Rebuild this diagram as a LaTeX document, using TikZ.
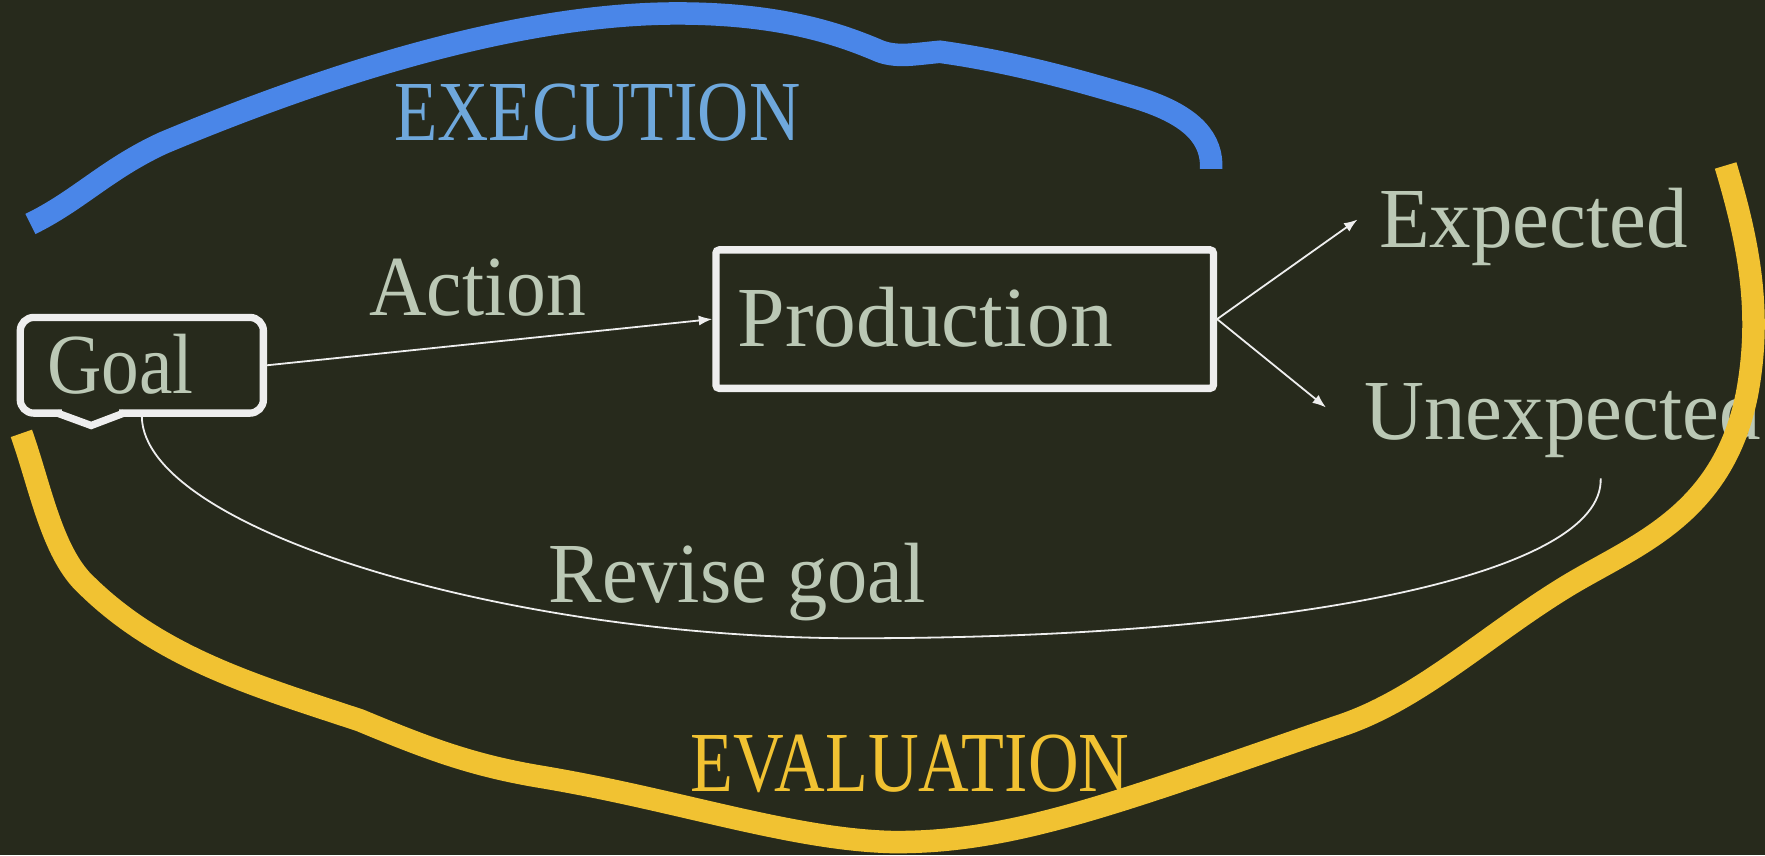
\documentclass[tikz,border=0pt]{standalone}
\usepackage{fontspec}
\usepackage{graphicx}
\setmainfont{Liberation Serif}
\usetikzlibrary{arrows.meta}
\definecolor{bg}{HTML}{272A1C}
\definecolor{sage}{HTML}{BBC8B5}
\definecolor{bluel}{HTML}{4A86E8}
\definecolor{bluet}{HTML}{6FA8DC}
\definecolor{yel}{HTML}{F1C232}
\definecolor{wl}{HTML}{EEEEEE}
\newcommand{\sx}[2]{\scalebox{#1}[1]{#2}}
\begin{document}
\begin{tikzpicture}[x=1pt,y=-1pt,
  txt/.style={anchor=base west, inner sep=0pt, text=sage, font=\fontsize{76}{90}\selectfont},
  boxline/.style={draw=wl, line width=6.5pt},
  thinarrow/.style={draw=wl, line width=1.6pt, -{Latex[length=12pt,width=9pt]}},
  thinline/.style={draw=wl, line width=1.6pt},
  bigstroke/.style={line width=20pt}]
\fill[bg] (0,0) rectangle (1568,760);
\useasboundingbox (0,0) rectangle (1568,760);

% blue execution stroke
\draw[bigstroke, bluel] (27,199) .. controls (70,178) and (95,150) .. (145,127)
  .. controls (300,62) and (470,10) .. (610,12)
  .. controls (690,13) and (740,28) .. (778,44)
  .. controls (795,52) and (812,48) .. (835,46)
  .. controls (900,55) and (960,72) .. (1010,87)
  .. controls (1062,103) and (1077,125) .. (1076,150);

% nodes
\node[boxline, rounded corners=12pt, minimum width=216pt, minimum height=85pt, inner sep=0pt] (goal) at (126,324.5) {};
\fill[bg] (55,363) rectangle (106,371);
\draw[boxline, line join=miter] (51,367) -- (81,378) -- (110,367);
\node[boxline, rounded corners=3pt, minimum width=442pt, minimum height=123pt, inner sep=0pt] (prod) at (857,283.5) {};

\node[txt] (goaltxt) at (42,350) {\sx{0.88}{Goal}};
\node[txt] (prodtxt) at (655,308) {Production};
\node[txt] (action) at (328,280) {\sx{0.93}{Action}};
\node[txt] (exp) at (1225,220) {\sx{0.97}{Expected}};
\node[txt] (unexp) at (1212,390) {\sx{0.97}{Unexpected}};
\node[txt] (revise) at (487,535) {\sx{0.94}{Revise goal}};
\node[txt, text=bluet] (execution) at (350,125) {\sx{0.83}{EXECUTION}};
\node[txt, text=yel] (evaluation) at (613,703) {\sx{0.82}{EVALUATION}};

\coordinate (expend) at (1206,195);
\coordinate (unexpend) at (1178,362);
\coordinate (revend) at (1422,425);

% connectors
\draw[thinarrow] (goal.east) -- (prod.west);
\draw[thinarrow] (prod.east) -- (expend);
\draw[thinarrow] (prod.east) -- (unexpend);
\draw[thinline] (goal.south) .. controls (128,470) and (450,567) .. (760,567)
  .. controls (1150,567) and (1425,510) .. (revend);

% yellow evaluation stroke
\draw[bigstroke, yel] (19,385) .. controls (35,430) and (45,485) .. (72,515)
  .. controls (140,585) and (230,610) .. (320,640)
  .. controls (380,665) and (420,680) .. (480,690)
  .. controls (600,710) and (700,745) .. (790,748)
  .. controls (900,750) and (1000,710) .. (1190,645)
  .. controls (1260,622) and (1320,565) .. (1390,522)
  .. controls (1450,485) and (1530,460) .. (1552,350)
  .. controls (1565,280) and (1555,220) .. (1533,147);
\end{tikzpicture}
\end{document}
